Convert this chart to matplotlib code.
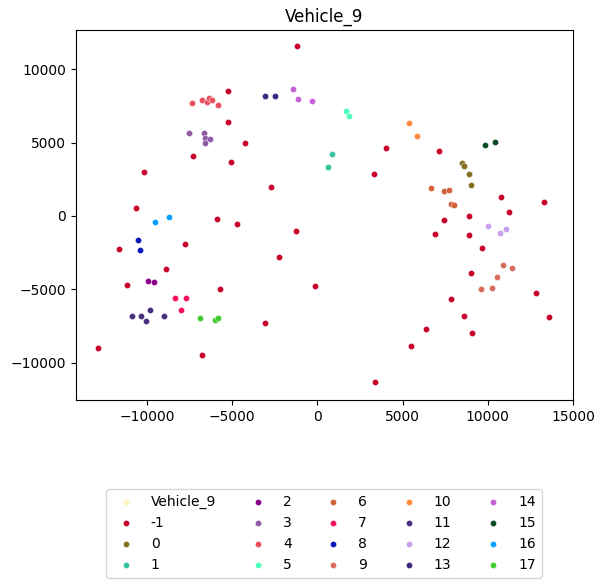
#Scatter of cluster labels for one vehicle
import matplotlib
matplotlib.use('Agg')
import matplotlib.pyplot as plt

labels = ['Vehicle_9', '-1', '0', '1', '2', '3', '4', '5', '6', '7', '8', '9',
          '10', '11', '12', '13', '14', '15', '16', '17']
colors = ['#fdf5c4', '#c8002a', '#857020', '#35c29e', '#8b008b', '#8e5ba6', '#ea4f5d',
          '#4dffb8', '#d2623a', '#f5105f', '#0a17b8', '#da6b5f', '#ff8a3d', '#4a3080',
          '#c9a0ec', '#3c2480', '#c860d8', '#0a4a25', '#0aa0ff', '#40cc30']

# x and y values per label
xs = [
    [],
    [-1180, -5229, -5229, -4230, -7283, -5053, -10158, -2705, -10628, -5874, -4700, -1238,
     -7752, -11625, -2236, -8867, -11156, -5698, -123, -3057, -12858, -6755, 4044, 7154,
     3339, 10792, 13316, 11262, 8914, 7447, 6919, 8914, 9677, 9032, 12846, 13609, 7858,
     8621, 6391, 9090, 5511, 3398],
    [8504, 8621, 8914, 9032],
    [874, 640],
    [-9923, -9571],
    [-7518, -6637, -6579, -6285, -6579],
    [-7341, -6755, -6461, -6344, -6168, -5816],
    [1696, 1872],
    [6684, 7447, 7741, 7858, 8034],
    [-8339, -7694, -7987],
    [-10510, -10393],
    [10910, 11438, 10558, 9618, 10264],
    [5393, 5863],
    [-10863, -10335, -10041, -9806, -8985],
    [10029, 10734, 11086],
    [-3057, -2471],
    [-1414, -1121, -299],
    [9853, 10440],
    [-9513, -8691],
    [-6872, -5992, -5816],
]
ys = [
    [],
    [11560, 8495, 6383, 4950, 4067, 3658, 2977, 1955, 525, -225, -565, -1042,
     -1928, -2268, -2813, -3631, -4721, -4993, -4789, -7309, -9012, -9489, 4612, 4407,
     2841, 1274, 933, 252, -20, -293, -1247, -1315, -2200, -3903, -5266, -6901, -5674,
     -6832, -7718, -7990, -8876, -11328],
    [3590, 3385, 2841, 2091],
    [4203, 3317],
    [-4448, -4516],
    [5634, 5634, 5293, 5225, 4952],
    [7677, 7882, 7745, 8018, 7882, 7541],
    [7132, 6792],
    [1887, 1683, 1751, 797, 729],
    [-5606, -5606, -6424],
    [-1655, -2337],
    [-3358, -3563, -4176, -4993, -4925],
    [6315, 5429],
    [-6832, -6832, -7173, -6424, -6832],
    [-702, -1178, -906],
    [8154, 8154],
    [8631, 7950, 7813],
    [4816, 5020],
    [-429, -89],
    [-6969, -7105, -6969],
]

fig = plt.figure(figsize=(6.03, 5.87), dpi=100)
ax = fig.add_axes([76 / 603, 1 - 400 / 587, 497 / 603, 370 / 587])

for i in range(len(labels)):
    ax.scatter(xs[i], ys[i], s=20, c=colors[i], label=labels[i],
               edgecolors='white', linewidths=0.3)

ax.set_xlim(-14167, 15000)
ax.set_ylim(-12534, 12670)
ax.set_xticks([-10000, -5000, 0, 5000, 10000, 15000])
ax.set_yticks([-10000, -5000, 0, 5000, 10000])
ax.set_title('Vehicle_9')
ax.legend(loc='upper center', bbox_to_anchor=(0.499, -0.223), ncol=5)

plt.savefig('out.png', dpi=100)
